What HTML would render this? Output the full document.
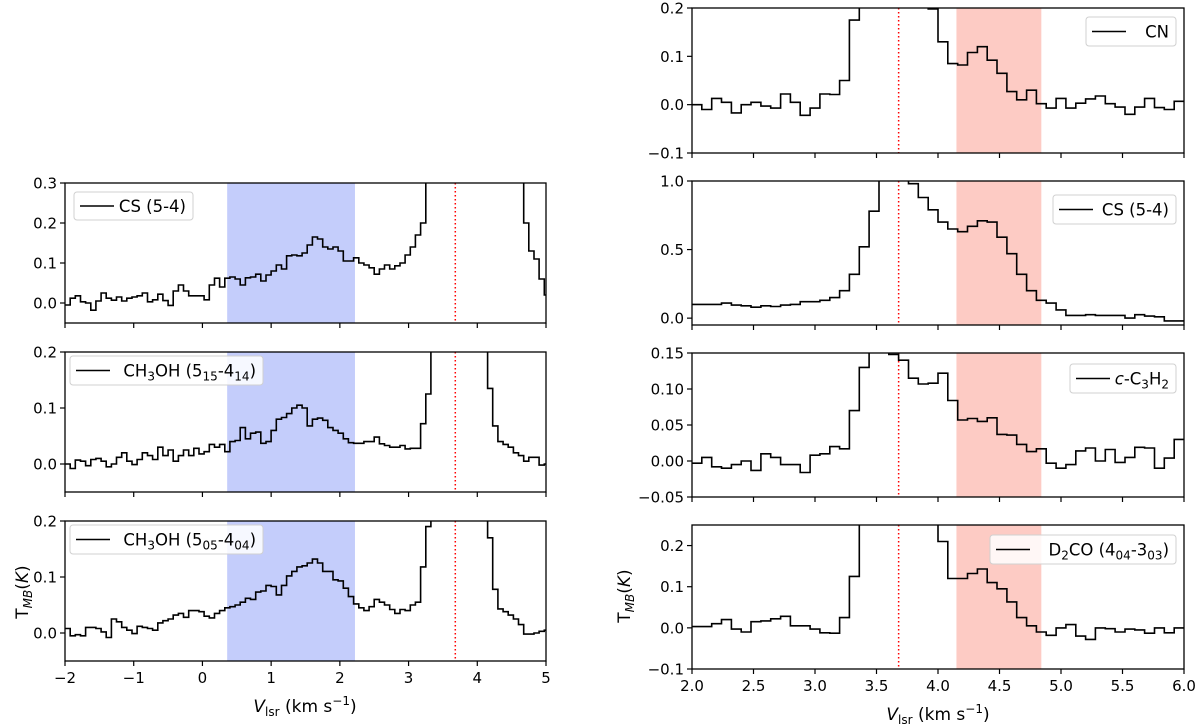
<!DOCTYPE html>
<html><head><meta charset="utf-8">
<style>
html,body{margin:0;padding:0;background:#fff;}
svg{display:block;font-family:"DejaVu Sans","Liberation Sans",sans-serif;}
</style></head>
<body>
<svg id="fig" width="1200" height="726" viewBox="0 0 1200 726" xmlns="http://www.w3.org/2000/svg">
<text transform="translate(28,592) rotate(-90)" text-anchor="middle" font-size="17">T<tspan font-style="italic" font-size="12" dy="4">MB</tspan><tspan dy="-4">(</tspan><tspan font-style="italic">K</tspan>)</text>
<text transform="translate(630,596) rotate(-90)" text-anchor="middle" font-size="17">T<tspan font-style="italic" font-size="12" dy="4">MB</tspan><tspan dy="-4">(</tspan><tspan font-style="italic">K</tspan>)</text>
<text x="305" y="712" text-anchor="middle" font-size="17"><tspan font-style="italic">V</tspan><tspan font-size="12" dy="4">lsr</tspan><tspan dy="-4"> (km s</tspan><tspan font-size="12" dy="-7">−1</tspan><tspan dy="7">)</tspan></text>
<text x="938" y="720" text-anchor="middle" font-size="17"><tspan font-style="italic">V</tspan><tspan font-size="12" dy="4">lsr</tspan><tspan dy="-4"> (km s</tspan><tspan font-size="12" dy="-7">−1</tspan><tspan dy="7">)</tspan></text>
</svg>
<script>
// ---- data ----
const leftV0 = -2.0, leftDv = 0.075;
const rightV0 = 2.0, rightDv = 0.08;
const hi = 1.0;
const csLeft = [-0.005,0.012,0.018,0.003,0.0,-0.018,0.005,0.025,0.012,0.007,0.015,0.005,0.012,0.015,0.018,0.025,0.003,0.008,0.022,0.006,-0.006,0.03,0.045,0.03,0.018,0.018,0.018,0.008,0.045,0.062,0.04,0.062,0.065,0.06,0.045,0.063,0.065,0.072,0.055,0.07,0.08,0.095,0.085,0.118,0.12,0.118,0.125,0.145,0.165,0.16,0.14,0.135,0.14,0.13,0.105,0.105,0.113,0.1,0.095,0.088,0.072,0.085,0.095,0.085,0.093,0.1,0.12,0.14,0.17,0.2,hi,hi,hi,hi,hi,hi,hi,hi,hi,hi,hi,hi,hi,hi,hi,hi,hi,hi,hi,0.2,0.13,0.11,0.06,0.02];
const ch3ohA = [0.0,-0.008,0.007,0.005,-0.003,0.008,0.01,0.005,-0.005,0.0,0.012,0.02,0.005,-0.001,0.008,0.02,0.015,0.008,0.03,0.015,0.025,0.005,0.015,0.025,0.015,0.028,0.018,0.022,0.035,0.03,0.035,0.022,0.04,0.042,0.065,0.045,0.055,0.057,0.037,0.04,0.06,0.08,0.083,0.09,0.1,0.105,0.1,0.068,0.08,0.082,0.078,0.065,0.06,0.055,0.045,0.038,0.037,0.037,0.04,0.04,0.048,0.036,0.033,0.03,0.03,0.033,0.027,0.028,0.028,0.072,0.125,hi,hi,hi,hi,hi,hi,hi,hi,hi,hi,hi,0.135,0.068,0.04,0.035,0.03,0.02,0.015,0.005,0.012,0.012,-0.002,0.0];
const ch3ohB = [0.008,-0.005,-0.003,-0.005,0.01,0.01,0.008,0.002,-0.008,0.025,0.02,0.01,0.005,-0.001,0.012,0.01,0.008,0.005,0.018,0.022,0.025,0.032,0.035,0.028,0.04,0.04,0.038,0.03,0.027,0.035,0.04,0.045,0.047,0.05,0.055,0.062,0.06,0.073,0.075,0.085,0.083,0.068,0.085,0.102,0.11,0.118,0.12,0.125,0.132,0.125,0.11,0.11,0.095,0.093,0.08,0.065,0.052,0.045,0.04,0.047,0.06,0.055,0.05,0.042,0.035,0.042,0.04,0.05,0.055,0.118,0.19,hi,hi,hi,hi,hi,hi,hi,hi,hi,hi,hi,0.17,0.078,0.043,0.038,0.032,0.025,0.015,-0.002,-0.002,0.0,0.003,0.005];
const cnRight = [0.0,-0.01,0.013,0.005,-0.017,0.0,0.005,-0.003,-0.007,0.022,0.005,-0.022,-0.007,0.022,0.021,0.05,0.175,hi,hi,hi,hi,hi,hi,hi,0.198,0.13,0.085,0.082,0.108,0.12,0.092,0.065,0.027,0.01,0.03,0.002,-0.007,0.013,-0.007,0.003,0.012,0.018,0.002,-0.005,-0.02,-0.005,0.013,-0.006,-0.01,0.007];
const csRight = [0.1,0.1,0.1,0.11,0.095,0.09,0.08,0.09,0.085,0.095,0.1,0.12,0.12,0.13,0.15,0.2,0.32,0.52,0.78,1.5,1.5,1.5,0.98,0.88,0.79,0.7,0.65,0.63,0.67,0.71,0.7,0.59,0.47,0.32,0.2,0.13,0.11,0.06,0.02,0.02,0.025,0.02,0.02,0.02,0.0,0.025,0.015,0.01,-0.02,-0.02];
const c3h2Right = [-0.003,0.005,-0.008,-0.01,-0.005,0.0,-0.013,0.01,0.005,-0.005,-0.005,-0.016,0.008,0.01,0.02,0.017,0.07,0.13,hi,hi,0.148,0.14,0.115,0.107,0.108,0.122,0.084,0.057,0.059,0.055,0.06,0.037,0.036,0.023,0.013,0.017,-0.003,-0.01,-0.005,0.014,0.018,0.0,0.016,-0.002,0.005,0.019,0.018,-0.01,0.004,0.03];
const d2coRight = [0.003,0.003,0.01,0.02,-0.003,-0.01,0.015,0.017,0.022,0.028,0.005,0.005,-0.003,-0.012,-0.013,0.025,0.125,hi,hi,hi,hi,hi,hi,hi,hi,0.21,0.12,0.12,0.132,0.143,0.11,0.095,0.063,0.025,0.005,-0.01,-0.018,0.0,0.008,-0.02,-0.028,0.0,-0.002,-0.01,-0.003,-0.005,-0.013,0.0,-0.012,0.0];
const blueBand = [0.36, 2.22];
const redBand = [4.15, 4.84];
const vRef = 3.68;
const leftXTicks = [-2,-1,0,1,2,3,4,5];
const leftXTickLabels = ["−2","−1","0","1","2","3","4","5"];
const rightXTicks = [2.0,2.5,3.0,3.5,4.0,4.5,5.0,5.5,6.0];
const rightXTickLabels = ["2.0","2.5","3.0","3.5","4.0","4.5","5.0","5.5","6.0"];

// ---- layout ----
const NS = "http://www.w3.org/2000/svg";
const svg = document.getElementById('fig');
function mk(tag, attrs, parent){ const e=document.createElementNS(NS,tag); for(const k in attrs) e.setAttribute(k,attrs[k]); (parent||svg).appendChild(e); return e; }

const panels = [
 {name:'cs-left', x0:65, x1:546, y0:183, y1:323, xmin:-2, xmax:5, ymin:-0.05, ymax:0.3, v0:leftV0, dv:leftDv, data:csLeft, band:blueBand, bandColor:'#c4cdfb', yt:[0,0.1,0.2,0.3], ytl:['0.0','0.1','0.2','0.3'], xt:leftXTicks, xtl:null, legend:{x:74,y:192,w:119,h:28,html:'CS (5-4)'}},
 {name:'ch3oh-515-left', x0:65, x1:546, y0:352, y1:492, xmin:-2, xmax:5, ymin:-0.05, ymax:0.2, v0:leftV0, dv:leftDv, data:ch3ohA, band:blueBand, bandColor:'#c4cdfb', yt:[0,0.1,0.2], ytl:['0.0','0.1','0.2'], xt:leftXTicks, xtl:null, legend:{x:70,y:356,w:193,h:29,sub:['CH','3','OH (5','15','-4','14',')']}},
 {name:'ch3oh-505-left', x0:65, x1:546, y0:521, y1:661, xmin:-2, xmax:5, ymin:-0.05, ymax:0.2, v0:leftV0, dv:leftDv, data:ch3ohB, band:blueBand, bandColor:'#c4cdfb', yt:[0,0.1,0.2], ytl:['0.0','0.1','0.2'], xt:leftXTicks, xtl:leftXTickLabels, legend:{x:70,y:525,w:193,h:29,sub:['CH','3','OH (5','05','-4','04',')']}},
 {name:'cn-right', x0:692, x1:1184, y0:8, y1:153, xmin:2, xmax:6, ymin:-0.1, ymax:0.2, v0:rightV0, dv:rightDv, data:cnRight, band:redBand, bandColor:'#fdcbc4', yt:[-0.1,0,0.1,0.2], ytl:['−0.1','0.0','0.1','0.2'], xt:rightXTicks, xtl:null, legend:{x:1086,y:17,w:90,h:29,html:'CN'}},
 {name:'cs-right', x0:692, x1:1184, y0:181, y1:325, xmin:2, xmax:6, ymin:-0.05, ymax:1.0, v0:rightV0, dv:rightDv, data:csRight, band:redBand, bandColor:'#fdcbc4', yt:[0,0.5,1.0], ytl:['0.0','0.5','1.0'], xt:rightXTicks, xtl:null, legend:{x:1053,y:195,w:123,h:29,html:'CS (5-4)'}},
 {name:'c3h2-right', x0:692, x1:1184, y0:353, y1:497, xmin:2, xmax:6, ymin:-0.05, ymax:0.15, v0:rightV0, dv:rightDv, data:c3h2Right, band:redBand, bandColor:'#fdcbc4', yt:[-0.05,0,0.05,0.1,0.15], ytl:['−0.05','0.00','0.05','0.10','0.15'], xt:rightXTicks, xtl:null, legend:{x:1070,y:364,w:106,h:29,italicPrefix:'c',sub:['-C','3','H','2']}},
 {name:'d2co-right', x0:692, x1:1184, y0:525, y1:669, xmin:2, xmax:6, ymin:-0.1, ymax:0.25, v0:rightV0, dv:rightDv, data:d2coRight, band:redBand, bandColor:'#fdcbc4', yt:[-0.1,0,0.1,0.2], ytl:['−0.1','0.0','0.1','0.2'], xt:rightXTicks, xtl:rightXTickLabels, legend:{x:990,y:535,w:186,h:29,sub:['D','2','CO (4','04','-3','03',')']}}
];

panels.forEach((p,pi)=>{
  const sx = v => p.x0 + (v-p.xmin)/(p.xmax-p.xmin)*(p.x1-p.x0);
  const sy = t => p.y1 - (t-p.ymin)/(p.ymax-p.ymin)*(p.y1-p.y0);
  const g = mk('g',{});
  
  
  const cid='clip'+pi;
  const cp = mk('clipPath',{id:cid},g);
  mk('rect',{x:p.x0,y:p.y0,width:p.x1-p.x0,height:p.y1-p.y0},cp);
  const band = mk('rect',{x:sx(p.band[0]),y:p.y0,width:sx(p.band[1])-sx(p.band[0]),height:p.y1-p.y0,fill:p.bandColor},g);
  
  
  const rl = mk('line',{x1:sx(vRef),x2:sx(vRef),y1:p.y0,y2:p.y1,stroke:'#ff0000','stroke-width':1.5,'stroke-dasharray':'1.5,2.5'},g);
  
  
  let d='';
  p.data.forEach((val,i)=>{
    const xa=sx(p.v0+i*p.dv), xb=sx(p.v0+(i+1)*p.dv), y=sy(val);
    d += (i===0?'M':'L')+xa.toFixed(1)+','+y.toFixed(1)+'L'+xb.toFixed(1)+','+y.toFixed(1);
  });
  const sp = mk('path',{d:d,fill:'none',stroke:'#000','stroke-width':1.6,'clip-path':'url(#'+cid+')'},g);
  
  
  const fr = mk('rect',{x:p.x0,y:p.y0,width:p.x1-p.x0,height:p.y1-p.y0,fill:'none',stroke:'#000','stroke-width':1.3},g);
  
  
  p.yt.forEach((t,i)=>{
    const y=sy(t);
    mk('line',{x1:p.x0-5,x2:p.x0,y1:y,y2:y,stroke:'#000','stroke-width':1.2},g);
    const tl = mk('text',{x:p.x0-8,y:y+5.5,'text-anchor':'end','font-size':15},g);
    tl.textContent=p.ytl[i];
    
    
  });
  p.xt.forEach((t,i)=>{
    const x=sx(t);
    mk('line',{x1:x,x2:x,y1:p.y1,y2:p.y1+5,stroke:'#000','stroke-width':1.2},g);
    if(p.xtl){
      const tl = mk('text',{x:x,y:p.y1+22,'text-anchor':'middle','font-size':15},g);
      tl.textContent=p.xtl[i];
      
      
    }
  });
  const L=p.legend;
  const lg = mk('g',{},g);
  
  
  mk('rect',{x:L.x,y:L.y,width:L.w,height:L.h,rx:3,fill:'#fff','fill-opacity':0.85,stroke:'#d0d0d0','stroke-width':1},lg);
  mk('line',{x1:L.x+6,x2:L.x+40,y1:L.y+L.h/2,y2:L.y+L.h/2,stroke:'#000','stroke-width':1.6},lg);
  const tx = mk('text',{x:L.x+L.w-7,y:L.y+L.h/2+6,'text-anchor':'end','font-size':16.5},lg);
  if(L.html){ tx.textContent=L.html; }
  else {
    if(L.italicPrefix){ const it=mk('tspan',{'font-style':'italic'},tx); it.textContent=L.italicPrefix; }
    const s=L.sub; let shifted=false;
    for(let k=0;k<s.length;k++){
      const ts = mk('tspan',{},tx);
      if(k%2===0){ ts.setAttribute('dy', shifted?-4:0); shifted=false; }
      else { ts.setAttribute('font-size',12); ts.setAttribute('dy',4); shifted=true; }
      ts.textContent=s[k];
    }
  }
});
</script>
</body></html>
